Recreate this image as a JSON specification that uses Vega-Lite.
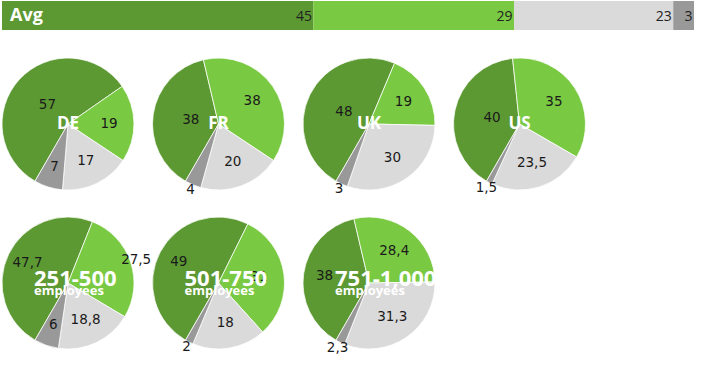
{
  "$schema": "https://vega.github.io/schema/vega-lite/v6.json",
  "padding": {"left": 0, "top": 1, "right": 0, "bottom": 0},
  "background": "white",
  "bounds": "flush",
  "config": {
    "view": {"stroke": null},
    "header": {"labels": false, "title": null, "labelFontSize": 0, "labelPadding": 0, "titlePadding": 0},
    "locale": {"number": {"decimal": ",", "thousands": ".", "grouping": [3], "currency": ["", ""]}}
  },
  "spacing": 28,
  "vconcat": [
    {
      "width": 692,
      "height": 29,
      "data": {"values": [
        {"group": "Avg", "cat": "c1", "value": 45},
        {"group": "Avg", "cat": "c2", "value": 29},
        {"group": "Avg", "cat": "c3", "value": 23},
        {"group": "Avg", "cat": "c4", "value": 3}
      ]},
      "layer": [
        {
          "mark": {"type": "bar"},
          "encoding": {
            "x": {"field": "value", "type": "quantitative", "stack": true, "scale": {"domain": [0, 100], "nice": false}, "axis": null},
            "y": {"field": "group", "type": "nominal", "axis": null, "scale": {"paddingInner": 0, "paddingOuter": 0}},
            "color": {"field": "cat", "type": "nominal", "legend": null, "scale": {"domain": ["c1", "c2", "c3", "c4"], "range": ["#5c9933", "#7ac943", "#dadada", "#999999"]}},
            "order": {"field": "cat", "type": "ordinal"}
          }
        },
        {
          "mark": {"type": "text", "align": "right", "baseline": "middle", "dx": -1.5, "dy": 1, "font": "Open Sans", "fontSize": 14, "color": "#222222"},
          "encoding": {
            "x": {"field": "value", "type": "quantitative", "stack": true},
            "y": {"field": "group", "type": "nominal"},
            "order": {"field": "cat", "type": "ordinal"},
            "text": {"field": "value", "type": "quantitative", "format": ".1~f"}
          }
        },
        {
          "transform": [{"filter": "datum.cat === 'c1'"}],
          "mark": {"type": "text", "align": "left", "baseline": "middle", "dx": 8, "font": "Open Sans", "fontWeight": "bold", "fontSize": 18, "color": "white"},
          "encoding": {
            "x": {"datum": 0, "type": "quantitative"},
            "y": {"field": "group", "type": "nominal"},
            "text": {"field": "group"}
          }
        }
      ]
    },
    {
      "data": {"values": [
        {"group": "DE", "unit": "", "cat": "c1", "value": 57},
        {"group": "DE", "unit": "", "cat": "c2", "value": 19},
        {"group": "DE", "unit": "", "cat": "c3", "value": 17},
        {"group": "DE", "unit": "", "cat": "c4", "value": 7},
        {"group": "FR", "unit": "", "cat": "c1", "value": 38},
        {"group": "FR", "unit": "", "cat": "c2", "value": 38},
        {"group": "FR", "unit": "", "cat": "c3", "value": 20},
        {"group": "FR", "unit": "", "cat": "c4", "value": 4},
        {"group": "UK", "unit": "", "cat": "c1", "value": 48},
        {"group": "UK", "unit": "", "cat": "c2", "value": 19},
        {"group": "UK", "unit": "", "cat": "c3", "value": 30},
        {"group": "UK", "unit": "", "cat": "c4", "value": 3},
        {"group": "US", "unit": "", "cat": "c1", "value": 40},
        {"group": "US", "unit": "", "cat": "c2", "value": 35},
        {"group": "US", "unit": "", "cat": "c3", "value": 23.5},
        {"group": "US", "unit": "", "cat": "c4", "value": 1.5},
        {"group": "251-500", "unit": "employees", "cat": "c1", "value": 47.7},
        {"group": "251-500", "unit": "employees", "cat": "c2", "value": 27.5},
        {"group": "251-500", "unit": "employees", "cat": "c3", "value": 18.8},
        {"group": "251-500", "unit": "employees", "cat": "c4", "value": 6},
        {"group": "501-750", "unit": "employees", "cat": "c1", "value": 49},
        {"group": "501-750", "unit": "employees", "cat": "c2", "value": 31},
        {"group": "501-750", "unit": "employees", "cat": "c3", "value": 18},
        {"group": "501-750", "unit": "employees", "cat": "c4", "value": 2},
        {"group": "751-1,000", "unit": "employees", "cat": "c1", "value": 38},
        {"group": "751-1,000", "unit": "employees", "cat": "c2", "value": 28.4},
        {"group": "751-1,000", "unit": "employees", "cat": "c3", "value": 31.3},
        {"group": "751-1,000", "unit": "employees", "cat": "c4", "value": 2.3}
      ]},
      "facet": {
        "field": "group",
        "type": "nominal",
        "sort": ["DE", "FR", "UK", "US", "251-500", "501-750", "751-1,000"],
        "header": null
      },
      "columns": 4,
      "bounds": "flush",
      "spacing": {"row": 27, "column": 18.5},
      "spec": {
        "width": 132,
        "height": 132,
        "layer": [
          {
            "mark": {"type": "arc", "radius": 66, "stroke": "white", "strokeWidth": 0.75},
            "encoding": {
              "theta": {"field": "value", "type": "quantitative", "stack": true, "scale": {"domain": [0, 100], "range": [3.6652, 9.9484]}},
              "color": {"field": "cat", "type": "nominal", "legend": null, "scale": {"domain": ["c1", "c2", "c3", "c4"], "range": ["#5c9933", "#7ac943", "#dadada", "#999999"]}},
              "order": {"field": "cat", "type": "ordinal"}
            }
          },
          {
            "mark": {"type": "text", "radius": 28, "font": "DejaVu Sans", "fontSize": 13.5, "color": "#1a1a1a", "baseline": "middle"},
            "encoding": {
              "theta": {"field": "value", "type": "quantitative", "stack": true},
              "order": {"field": "cat", "type": "ordinal"},
              "text": {"condition": {"test": "datum.cat === 'c1' && datum.unit === ''", "field": "value", "type": "quantitative", "format": ".1~f"}, "value": ""}
            }
          },
          {
            "mark": {"type": "text", "radius": 41, "font": "DejaVu Sans", "fontSize": 13.5, "color": "#1a1a1a", "baseline": "middle"},
            "encoding": {
              "theta": {"field": "value", "type": "quantitative", "stack": true},
              "order": {"field": "cat", "type": "ordinal"},
              "text": {"condition": {"test": "(datum.cat === 'c2' && datum.group !== '251-500') || datum.cat === 'c3'", "field": "value", "type": "quantitative", "format": ".1~f"}, "value": ""}
            }
          },
          {
            "mark": {"type": "text", "radius": 45, "font": "DejaVu Sans", "fontSize": 13.5, "color": "#1a1a1a", "baseline": "middle"},
            "encoding": {
              "theta": {"field": "value", "type": "quantitative", "stack": true},
              "order": {"field": "cat", "type": "ordinal"},
              "text": {"condition": {"test": "(datum.cat === 'c1' && datum.unit !== '') || (datum.cat === 'c4' && datum.value >= 5)", "field": "value", "type": "quantitative", "format": ".1~f"}, "value": ""}
            }
          },
          {
            "mark": {"type": "text", "radius": 72, "font": "DejaVu Sans", "fontSize": 13.5, "color": "#1a1a1a", "baseline": "middle"},
            "encoding": {
              "theta": {"field": "value", "type": "quantitative", "stack": true},
              "order": {"field": "cat", "type": "ordinal"},
              "text": {"condition": {"test": "(datum.cat === 'c4' && datum.value < 5) || (datum.cat === 'c2' && datum.group === '251-500')", "field": "value", "type": "quantitative", "format": ".1~f"}, "value": ""}
            }
          },
          {
            "transform": [{"filter": "datum.cat === 'c1' && datum.unit === ''"}],
            "mark": {"type": "text", "align": "center", "baseline": "middle", "font": "Open Sans", "fontWeight": "bold", "fontSize": 17, "color": "white"},
            "encoding": {"text": {"field": "group"}}
          },
          {
            "transform": [{"filter": "datum.cat === 'c1' && datum.unit !== ''"}],
            "mark": {"type": "text", "align": "left", "baseline": "alphabetic", "dx": -34, "dy": 3, "font": "Open Sans", "fontWeight": "bold", "fontSize": 22, "color": "white"},
            "encoding": {"text": {"field": "group"}}
          },
          {
            "transform": [{"filter": "datum.cat === 'c1' && datum.unit !== ''"}],
            "mark": {"type": "text", "align": "left", "baseline": "alphabetic", "dx": -34, "dy": 12, "font": "Open Sans", "fontWeight": "bold", "fontSize": 13, "color": "white"},
            "encoding": {"text": {"field": "unit"}}
          }
        ]
      }
    }
  ]
}
